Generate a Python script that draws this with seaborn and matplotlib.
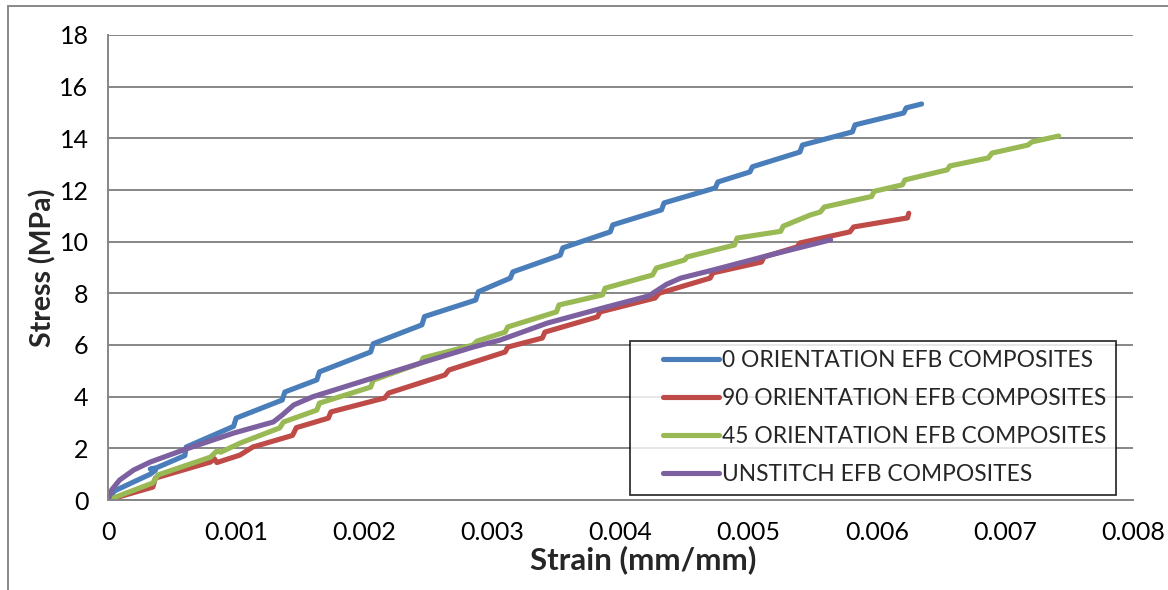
import matplotlib
matplotlib.use("Agg")
import matplotlib.pyplot as plt
from matplotlib.lines import Line2D
from matplotlib.legend_handler import HandlerLine2D
import numpy as np
import pandas as pd
import seaborn as sns

# series (strain mm/mm, stress MPa)
blue_x = [0, 0.00005, 0.0002, 0.00033, 0.00037, 0.00033, 0.00038, 0.0006, 0.00061,
          0.00098, 0.001, 0.00136, 0.00138, 0.00163, 0.00165, 0.00205, 0.00207,
          0.00245, 0.00247, 0.00287, 0.00289, 0.00314, 0.00316, 0.00353, 0.00355,
          0.00392, 0.00394, 0.00432, 0.00434, 0.00474, 0.00476, 0.00501, 0.00503,
          0.0054, 0.00542, 0.00581, 0.00583, 0.00621, 0.00623, 0.00635]
blue_y = [0, 0.35, 0.7, 1.0, 1.15, 1.2, 1.25, 1.72, 2.05,
          2.85, 3.17, 3.87, 4.18, 4.65, 4.96, 5.73, 6.05,
          6.78, 7.1, 7.74, 8.06, 8.59, 8.83, 9.48, 9.76,
          10.38, 10.65, 11.23, 11.5, 12.08, 12.31, 12.7, 12.9,
          13.47, 13.74, 14.25, 14.52, 14.98, 15.18, 15.33]

red_x = [0, 0.00035, 0.00037, 0.0008, 0.00083, 0.00085, 0.00103, 0.00113, 0.00144,
         0.00147, 0.00172, 0.00174, 0.00216, 0.00219, 0.00263, 0.00266, 0.0031,
         0.00312, 0.00339, 0.00341, 0.00382, 0.00384, 0.00427, 0.0043, 0.0047,
         0.00472, 0.0051, 0.00512, 0.00538, 0.0054, 0.00579, 0.00582, 0.00624, 0.00625]
red_y = [0, 0.5, 0.85, 1.47, 1.6, 1.45, 1.74, 2.05, 2.5,
         2.8, 3.17, 3.41, 3.95, 4.14, 4.84, 5.03, 5.73,
         5.92, 6.27, 6.5, 7.09, 7.28, 7.82, 8.0, 8.59,
         8.79, 9.21, 9.41, 9.8, 9.95, 10.38, 10.57, 10.92, 11.1]

green_x = [0, 0.00035, 0.00039, 0.0008, 0.00085, 0.00088, 0.00103, 0.00134, 0.00137,
           0.00163, 0.00165, 0.00205, 0.00207, 0.00244, 0.00246, 0.00285, 0.00288,
           0.0031, 0.00312, 0.0035, 0.00352, 0.00386, 0.00388, 0.00425, 0.00428,
           0.0045, 0.00452, 0.00489, 0.00491, 0.00525, 0.00527, 0.00548, 0.00556,
           0.00559, 0.00596, 0.00598, 0.0062, 0.00622, 0.00655, 0.00657, 0.00687,
           0.0069, 0.00718, 0.00721, 0.00742]
green_y = [0, 0.66, 0.97, 1.66, 1.9, 1.85, 2.2, 2.79, 3.02,
           3.48, 3.75, 4.37, 4.64, 5.3, 5.5, 6.0, 6.15,
           6.5, 6.7, 7.28, 7.55, 7.94, 8.2, 8.71, 8.98,
           9.29, 9.41, 9.87, 10.14, 10.4, 10.6, 11.03, 11.15,
           11.34, 11.75, 11.95, 12.2, 12.39, 12.78, 12.93, 13.24,
           13.43, 13.74, 13.86, 14.09]

purple_x = [0, 0.00003, 0.00009, 0.0002, 0.00033, 0.00059, 0.00098, 0.00129, 0.00136,
            0.00145, 0.0016, 0.00202, 0.00244, 0.00285, 0.00306, 0.00343, 0.00386,
            0.00422, 0.00436, 0.00447, 0.00472, 0.00511, 0.00564]
purple_y = [0, 0.4, 0.77, 1.16, 1.47, 1.94, 2.59, 3.02, 3.29,
            3.68, 4.0, 4.65, 5.3, 5.92, 6.19, 6.85, 7.43,
            7.9, 8.35, 8.59, 8.9, 9.41, 10.07]

labels = ["0 ORIENTATION EFB COMPOSITES", "90 ORIENTATION EFB COMPOSITES",
          "45 ORIENTATION EFB COMPOSITES", "UNSTITCH EFB COMPOSITES"]
colors = ["#4A7EBB", "#BE4B48", "#98B954", "#7D60A0"]

x_ticks = [0, 0.001, 0.002, 0.003, 0.004, 0.005, 0.006, 0.007, 0.008]
x_tick_labels = ["0", "0.001", "0.002", "0.003", "0.004", "0.005", "0.006", "0.007", "0.008"]
y_ticks = [0, 2, 4, 6, 8, 10, 12, 14, 16, 18]


class InsetLineHandler(HandlerLine2D):
    """Legend line that starts part-way into the handle box (Excel-style left padding)."""

    def create_artists(self, legend, orig_handle, xdescent, ydescent, width,
                       height, fontsize, trans):
        artists = super().create_artists(legend, orig_handle, xdescent, ydescent,
                                         width, height, fontsize, trans)
        line = artists[0]
        xd = np.asarray(line.get_xdata(), dtype=float)
        start = xd[0] + 0.29 * (xd[-1] - xd[0])
        line.set_xdata(np.linspace(start, xd[-1], len(xd)))
        return artists


sns.set_theme(style="white")
plt.rcParams["font.family"] = ["Lato", "DejaVu Sans"]

frames = []
for lab, xs, ys in zip(labels, [blue_x, red_x, green_x, purple_x],
                       [blue_y, red_y, green_y, purple_y]):
    frames.append(pd.DataFrame({"strain": xs, "stress": ys, "series": lab}))
df = pd.concat(frames, ignore_index=True)

fig = plt.figure(figsize=(11.68, 5.9), dpi=100)
ax = fig.add_axes([108 / 1168, 90 / 590, 1025 / 1168, 465 / 590])

sns.lineplot(data=df, x="strain", y="stress", hue="series", hue_order=labels,
             palette=colors, sort=False, estimator=None, units="series",
             linewidth=3.7, ax=ax, legend=False, solid_capstyle="round",
             solid_joinstyle="round")

ax.set_xlim(0, 0.008)
ax.set_ylim(0, 18)
ax.set_xticks(x_ticks)
ax.set_xticklabels(x_tick_labels)
ax.set_yticks(y_ticks)
ax.grid(axis="y", color="#868686", linewidth=1.4)
ax.set_axisbelow(True)
for side in ["top", "right"]:
    ax.spines[side].set_visible(False)
for side in ["left", "bottom"]:
    ax.spines[side].set_color("#868686")
    ax.spines[side].set_linewidth(1.4)
ax.tick_params(axis="both", which="both", direction="out", length=5, width=1.2,
               color="#868686", labelsize=18, labelcolor="black", pad=9)
ax.tick_params(axis="x", pad=10)

ax.set_xlabel("Strain (mm/mm)", fontsize=22.5, fontweight="bold")
ax.xaxis.set_label_coords(0.522, -0.098)
ax.set_ylabel("Stress (MPa)", fontsize=20.5, fontweight="bold", labelpad=2)

handles = [Line2D([0], [0], color=c, lw=3.7, solid_capstyle="round") for c in colors]
leg = ax.legend(handles, labels, loc="lower right", bbox_to_anchor=(1008 / 1025, 5 / 465),
                fontsize=16.4, frameon=True, fancybox=False, edgecolor="black",
                handlelength=3.5, handletextpad=0.12, labelspacing=0.75,
                borderpad=0.42, borderaxespad=0,
                handler_map={Line2D: InsetLineHandler()})
leg.get_frame().set_linewidth(1.3)

# outer chart border (top and left edges visible in the reference)
fig.add_artist(Line2D([8 / 1168, 1], [1 - 6 / 590, 1 - 6 / 590], color="#888888", lw=1.4))
fig.add_artist(Line2D([8 / 1168, 8 / 1168], [0, 1 - 6 / 590], color="#888888", lw=1.4))

fig.savefig("out.png", dpi=100)
